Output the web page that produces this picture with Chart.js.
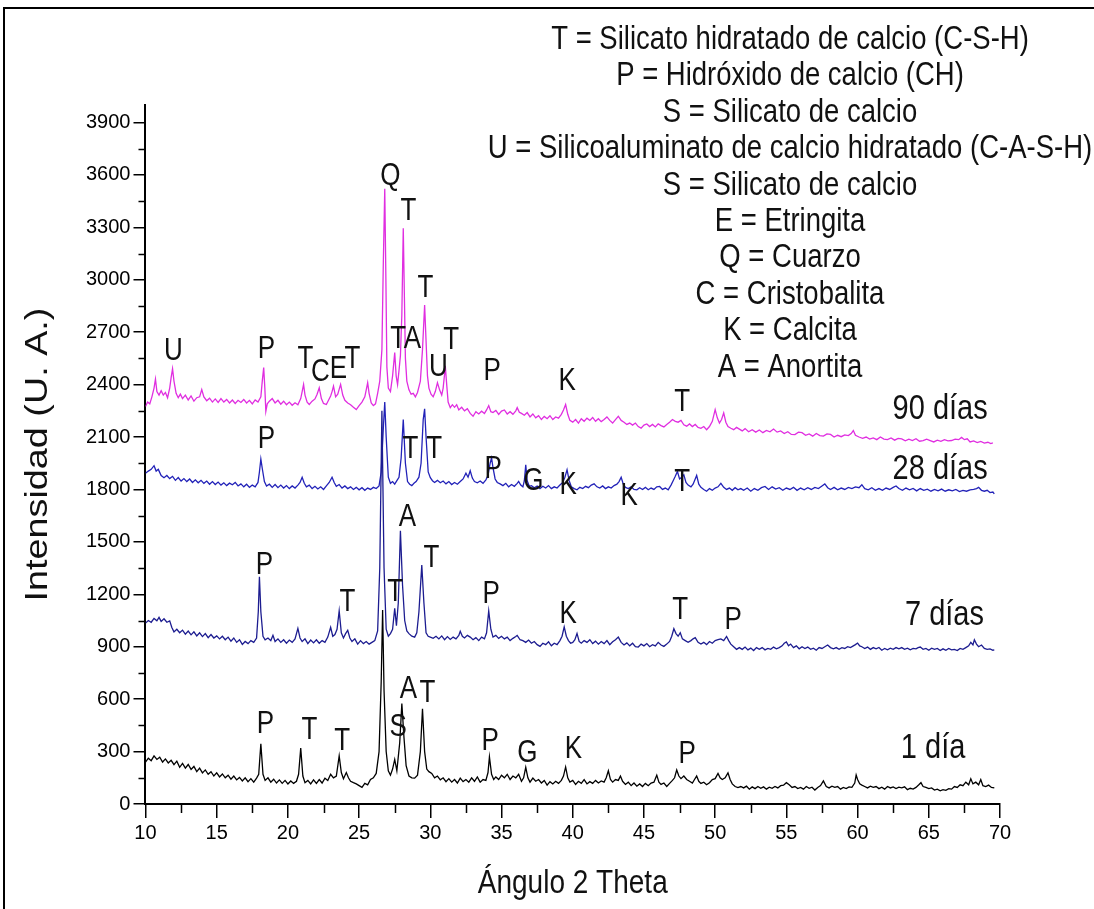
<!DOCTYPE html>
<html>
<head>
<meta charset="utf-8">
<script src="https://cdn.jsdelivr.net/npm/chart.js@4"></script>
<style>
  html, body { margin: 0; padding: 0; background: #fff; }
  #wrap { width: 1094px; height: 909px; }
</style>
</head>
<body>
<div id="wrap"><canvas id="xrd" width="1094" height="909"></canvas></div>
<script>
// ---- difractogramas [2θ, intensidad] ----
const dia1 = [
  [10.0,240],[10.2,262],[10.4,248],[10.6,275],[10.8,255],[11.0,268],[11.2,240],[11.4,258],[11.6,235],[11.8,250],
  [12.0,225],[12.2,245],[12.4,210],[12.6,232],[12.8,205],[13.0,226],[13.2,198],[13.4,215],[13.6,185],[13.8,205],
  [14.0,178],[14.2,195],[14.4,170],[14.6,185],[14.8,160],[15.0,178],[15.2,155],[15.4,172],[15.6,150],[15.8,165],
  [16.0,142],[16.2,160],[16.4,138],[16.6,152],[16.8,132],[17.0,150],[17.2,128],[17.4,145],[17.6,125],[17.8,148],
  [17.95,170],[18.1,345],[18.25,170],[18.4,135],[18.6,150],[18.8,125],[19.0,142],[19.2,120],[19.4,138],[19.6,118],
  [19.8,135],[20.0,115],[20.2,132],[20.4,118],[20.6,130],[20.75,170],[20.9,320],[21.05,160],[21.2,122],[21.4,135],
  [21.6,115],[21.8,138],[22.0,118],[22.2,140],[22.4,120],[22.6,148],[22.8,135],[23.0,170],[23.2,150],[23.4,160],
  [23.6,275],[23.75,180],[23.9,145],[24.1,180],[24.25,150],[24.4,130],[24.6,122],[24.8,115],[25.0,105],[25.2,95],
  [25.4,118],[25.6,110],[25.8,140],[26.0,150],[26.2,175],[26.4,300],[26.55,700],[26.65,1110],[26.75,650],[26.9,300],
  [27.05,190],[27.2,165],[27.35,200],[27.5,255],[27.65,190],[27.85,350],[28.0,575],[28.15,380],[28.3,220],[28.5,160],
  [28.7,150],[28.9,148],[29.1,165],[29.3,300],[29.45,545],[29.6,300],[29.75,200],[29.9,185],[30.1,175],[30.3,150],
  [30.5,160],[30.7,138],[30.9,150],[31.1,128],[31.3,145],[31.5,125],[31.7,140],[31.9,120],[32.1,148],[32.3,128],
  [32.5,140],[32.7,125],[32.9,150],[33.1,130],[33.3,155],[33.5,125],[33.7,140],[33.9,135],[34.05,180],[34.15,270],
  [34.3,170],[34.45,140],[34.6,155],[34.8,140],[35.0,165],[35.2,150],[35.4,170],[35.6,140],[35.8,160],[36.0,150],
  [36.2,170],[36.4,130],[36.55,150],[36.7,210],[36.85,150],[37.0,125],[37.2,148],[37.4,130],[37.6,140],[37.8,120],
  [38.0,135],[38.2,108],[38.4,128],[38.6,115],[38.8,130],[39.0,118],[39.2,135],[39.35,160],[39.5,212],[39.65,150],
  [39.8,125],[40.0,135],[40.2,112],[40.4,130],[40.6,118],[40.8,140],[41.0,115],[41.2,128],[41.4,118],[41.6,135],
  [41.8,120],[42.0,132],[42.2,125],[42.35,150],[42.5,190],[42.65,140],[42.8,125],[43.0,140],[43.2,135],[43.35,160],
  [43.5,130],[43.7,112],[43.9,125],[44.1,105],[44.3,120],[44.5,102],[44.7,115],[44.9,100],[45.1,118],[45.3,105],
  [45.5,120],[45.7,125],[45.9,165],[46.05,125],[46.2,112],[46.4,120],[46.6,100],[46.8,118],[47.0,135],[47.15,150],
  [47.3,195],[47.45,160],[47.6,145],[47.8,160],[48.0,140],[48.2,130],[48.4,120],[48.55,140],[48.7,160],[48.85,130],
  [49.0,118],[49.2,125],[49.4,110],[49.6,122],[49.8,140],[50.0,145],[50.2,175],[50.35,150],[50.5,140],[50.7,150],
  [50.9,178],[51.05,140],[51.2,115],[51.4,100],[51.6,94],[51.8,100],[52.0,92],[52.2,102],[52.4,85],[52.6,98],
  [52.8,88],[53.0,100],[53.2,90],[53.4,98],[53.6,85],[53.8,96],[54.0,90],[54.2,100],[54.4,92],[54.6,105],
  [54.8,108],[55.0,122],[55.2,110],[55.4,95],[55.6,100],[55.8,88],[56.0,95],[56.2,85],[56.4,100],[56.6,90],
  [56.8,96],[57.0,80],[57.2,95],[57.4,105],[57.6,132],[57.8,100],[58.0,92],[58.2,102],[58.4,95],[58.6,100],
  [58.8,85],[59.0,95],[59.2,88],[59.4,98],[59.6,95],[59.8,120],[59.9,166],[60.0,140],[60.15,115],[60.3,108],
  [60.5,100],[60.7,92],[60.9,102],[61.1,95],[61.3,100],[61.5,88],[61.7,96],[61.9,85],[62.1,100],[62.3,92],
  [62.5,98],[62.7,88],[62.9,96],[63.1,92],[63.3,98],[63.5,82],[63.7,90],[63.9,85],[64.1,95],[64.3,110],
  [64.45,122],[64.6,100],[64.8,95],[65.0,88],[65.2,92],[65.4,80],[65.6,85],[65.8,75],[66.0,82],[66.2,78],
  [66.4,88],[66.6,85],[66.8,100],[67.0,95],[67.2,110],[67.4,105],[67.6,125],[67.8,110],[67.95,144],[68.1,115],
  [68.3,125],[68.5,110],[68.65,140],[68.8,105],[69.0,100],[69.2,108],[69.4,95],[69.6,92]
];
const dia7 = [
  [10.0,1035],[10.2,1050],[10.4,1040],[10.6,1062],[10.8,1048],[10.95,1068],[11.1,1045],[11.3,1060],[11.5,1040],[11.7,1048],
  [11.85,1010],[12.0,985],[12.2,1000],[12.4,980],[12.6,995],[12.8,972],[13.0,990],[13.2,968],[13.4,985],[13.6,962],
  [13.8,980],[14.0,958],[14.2,975],[14.4,952],[14.6,970],[14.8,950],[15.0,962],[15.2,945],[15.4,960],[15.6,940],
  [15.8,955],[16.0,932],[16.2,950],[16.4,925],[16.6,940],[16.8,913],[17.0,930],[17.2,918],[17.4,935],[17.6,925],
  [17.8,950],[17.92,1100],[18.0,1300],[18.1,1100],[18.25,960],[18.4,940],[18.6,950],[18.8,935],[18.95,965],[19.1,930],
  [19.3,945],[19.5,925],[19.7,940],[19.9,920],[20.1,938],[20.3,925],[20.5,945],[20.7,1005],[20.85,950],[21.0,930],
  [21.2,945],[21.4,918],[21.6,938],[21.8,922],[22.0,940],[22.2,920],[22.4,935],[22.6,925],[22.8,955],[23.0,1011],
  [23.15,960],[23.3,970],[23.45,1000],[23.6,1105],[23.75,980],[23.9,950],[24.05,975],[24.2,994],[24.35,950],[24.5,930],
  [24.7,945],[24.9,915],[25.1,935],[25.3,918],[25.5,930],[25.7,915],[25.9,925],[26.1,935],[26.3,990],[26.45,1350],
  [26.6,2250],[26.75,1350],[26.9,1000],[27.05,960],[27.2,975],[27.35,1000],[27.5,1120],[27.62,1020],[27.75,1150],[27.9,1564],
  [28.05,1250],[28.2,1050],[28.35,990],[28.5,975],[28.7,960],[28.9,955],[29.05,980],[29.2,1100],[29.4,1367],[29.55,1150],
  [29.7,980],[29.85,960],[30.0,955],[30.2,948],[30.4,960],[30.6,945],[30.8,962],[31.0,940],[31.2,958],[31.4,942],
  [31.6,955],[31.8,945],[32.0,965],[32.1,988],[32.25,960],[32.4,950],[32.6,965],[32.8,955],[33.0,940],[33.2,952],
  [33.4,935],[33.6,955],[33.8,945],[33.95,980],[34.1,1105],[34.25,1000],[34.4,955],[34.6,965],[34.8,948],[35.0,960],
  [35.2,945],[35.4,955],[35.6,935],[35.8,948],[36.0,958],[36.1,965],[36.3,940],[36.5,935],[36.7,925],[36.9,938],
  [37.1,920],[37.3,930],[37.5,912],[37.7,902],[37.9,920],[38.1,912],[38.3,928],[38.5,905],[38.7,920],[38.9,912],
  [39.1,935],[39.25,960],[39.4,1013],[39.55,960],[39.7,935],[39.85,920],[40.0,925],[40.15,940],[40.3,976],[40.45,930],
  [40.6,920],[40.8,935],[41.0,925],[41.2,940],[41.4,918],[41.6,932],[41.8,915],[42.0,930],[42.2,918],[42.4,935],
  [42.6,912],[42.8,928],[43.0,940],[43.2,955],[43.4,925],[43.6,910],[43.8,922],[44.0,905],[44.2,920],[44.4,900],
  [44.6,898],[44.8,915],[45.0,905],[45.2,918],[45.4,900],[45.6,912],[45.8,905],[46.0,925],[46.2,910],[46.4,902],
  [46.6,915],[46.8,930],[46.95,960],[47.1,1003],[47.25,975],[47.4,960],[47.55,980],[47.7,945],[47.9,935],[48.1,925],
  [48.3,935],[48.45,945],[48.6,952],[48.8,925],[49.0,915],[49.2,925],[49.4,912],[49.6,930],[49.8,920],[50.0,935],
  [50.2,940],[50.4,945],[50.6,935],[50.8,959],[50.95,935],[51.1,915],[51.3,900],[51.5,885],[51.7,895],[51.9,885],
  [52.1,898],[52.3,882],[52.5,892],[52.7,878],[52.9,895],[53.1,885],[53.3,895],[53.5,882],[53.7,890],[53.9,885],
  [54.1,898],[54.3,888],[54.5,895],[54.7,905],[54.85,920],[55.0,927],[55.15,905],[55.3,915],[55.5,895],[55.7,905],
  [55.9,888],[56.1,900],[56.3,890],[56.5,898],[56.7,885],[56.9,892],[57.1,880],[57.3,895],[57.5,890],[57.7,900],
  [57.9,910],[58.1,895],[58.3,888],[58.5,895],[58.7,885],[58.9,895],[59.1,890],[59.3,900],[59.5,895],[59.7,905],
  [59.85,912],[60.0,921],[60.15,905],[60.3,900],[60.5,890],[60.7,898],[60.9,885],[61.1,895],[61.3,888],[61.5,896],
  [61.7,880],[61.9,890],[62.1,882],[62.3,892],[62.5,885],[62.7,895],[62.9,888],[63.1,895],[63.3,885],[63.5,892],
  [63.7,882],[63.9,890],[64.1,888],[64.25,895],[64.4,898],[64.6,885],[64.8,890],[65.0,880],[65.2,892],[65.4,885],
  [65.6,890],[65.8,878],[66.0,888],[66.2,880],[66.4,890],[66.6,882],[66.8,885],[67.0,878],[67.2,890],[67.4,885],
  [67.6,895],[67.8,905],[67.95,925],[68.1,910],[68.2,940],[68.35,915],[68.5,900],[68.7,910],[68.9,890],[69.1,885],
  [69.3,888],[69.5,880],[69.6,882]
];
const dia28 = [
  [10.0,1893],[10.2,1905],[10.4,1915],[10.6,1936],[10.75,1905],[10.9,1915],[11.1,1880],[11.3,1867],[11.5,1880],[11.7,1862],
  [11.9,1875],[12.1,1852],[12.3,1868],[12.5,1848],[12.7,1862],[12.9,1845],[13.1,1860],[13.3,1840],[13.5,1855],[13.7,1838],
  [13.9,1852],[14.1,1835],[14.3,1848],[14.5,1830],[14.7,1845],[14.9,1828],[15.1,1842],[15.3,1825],[15.5,1838],[15.7,1822],
  [15.9,1836],[16.1,1827],[16.3,1840],[16.5,1820],[16.7,1832],[16.9,1815],[17.1,1830],[17.3,1812],[17.5,1825],[17.7,1815],
  [17.9,1840],[18.0,1900],[18.1,1974],[18.2,1920],[18.35,1845],[18.5,1820],[18.7,1830],[18.9,1812],[19.1,1828],[19.3,1810],
  [19.5,1825],[19.7,1808],[19.9,1822],[20.1,1805],[20.3,1820],[20.5,1808],[20.7,1825],[20.85,1840],[21.0,1870],[21.15,1835],
  [21.3,1815],[21.5,1825],[21.7,1805],[21.9,1818],[22.1,1803],[22.3,1815],[22.5,1800],[22.7,1820],[22.9,1840],[23.1,1870],
  [23.25,1840],[23.4,1818],[23.6,1828],[23.8,1808],[24.0,1820],[24.2,1805],[24.4,1815],[24.6,1800],[24.8,1812],[25.0,1798],
  [25.2,1810],[25.4,1795],[25.6,1808],[25.8,1800],[26.0,1812],[26.2,1805],[26.4,1820],[26.55,1900],[26.7,2150],[26.8,2300],
  [26.9,2100],[27.05,1870],[27.2,1835],[27.35,1845],[27.5,1830],[27.65,1850],[27.8,1870],[27.95,1980],[28.1,2200],[28.25,1950],
  [28.4,1845],[28.55,1830],[28.7,1822],[28.85,1835],[29.0,1845],[29.2,1870],[29.35,1950],[29.5,2200],[29.6,2261],[29.7,2100],
  [29.85,1900],[30.0,1867],[30.15,1850],[30.3,1840],[30.5,1852],[30.7,1838],[30.9,1848],[31.1,1832],[31.3,1845],[31.5,1828],
  [31.7,1840],[31.9,1830],[32.1,1845],[32.3,1860],[32.5,1893],[32.65,1870],[32.8,1907],[32.95,1865],[33.1,1845],[33.3,1838],
  [33.5,1848],[33.7,1835],[33.9,1855],[34.05,1880],[34.2,1950],[34.3,1980],[34.4,1925],[34.55,1860],[34.7,1840],[34.9,1832],
  [35.1,1822],[35.3,1835],[35.5,1815],[35.7,1828],[35.9,1818],[36.1,1835],[36.2,1846],[36.35,1825],[36.5,1815],[36.6,1850],
  [36.7,1941],[36.8,1850],[36.95,1818],[37.1,1822],[37.3,1810],[37.5,1820],[37.7,1805],[37.9,1818],[38.1,1808],[38.3,1822],
  [38.5,1805],[38.7,1815],[38.9,1808],[39.1,1825],[39.3,1840],[39.45,1870],[39.6,1913],[39.75,1850],[39.9,1815],[40.1,1805],
  [40.3,1798],[40.5,1812],[40.7,1805],[40.9,1818],[41.1,1810],[41.3,1825],[41.5,1832],[41.7,1815],[41.9,1808],[42.1,1820],
  [42.3,1805],[42.5,1815],[42.7,1808],[42.9,1822],[43.1,1830],[43.25,1845],[43.4,1870],[43.55,1830],[43.7,1812],[43.9,1805],
  [44.1,1815],[44.3,1800],[44.5,1798],[44.7,1810],[44.9,1800],[45.1,1812],[45.3,1798],[45.5,1808],[45.7,1800],[45.9,1815],
  [46.1,1817],[46.3,1800],[46.5,1808],[46.7,1798],[46.9,1825],[47.05,1850],[47.2,1875],[47.35,1903],[47.5,1860],[47.65,1870],
  [47.8,1884],[47.95,1840],[48.1,1825],[48.3,1815],[48.45,1830],[48.6,1860],[48.7,1880],[48.85,1830],[49.0,1812],[49.2,1800],
  [49.4,1790],[49.6,1805],[49.8,1795],[50.0,1808],[50.2,1815],[50.4,1835],[50.6,1812],[50.8,1800],[51.0,1808],[51.2,1795],
  [51.4,1810],[51.6,1798],[51.8,1805],[52.0,1795],[52.25,1808],[52.5,1790],[52.75,1805],[53.0,1795],[53.25,1810],[53.5,1817],
  [53.75,1800],[54.0,1815],[54.25,1802],[54.5,1810],[54.75,1795],[55.0,1808],[55.25,1800],[55.5,1812],[55.75,1795],[56.0,1808],
  [56.25,1798],[56.5,1810],[56.75,1800],[57.0,1812],[57.25,1805],[57.5,1820],[57.7,1832],[57.9,1810],[58.1,1800],[58.35,1812],
  [58.6,1798],[58.85,1808],[59.1,1800],[59.35,1812],[59.6,1805],[59.85,1815],[60.1,1810],[60.3,1827],[60.5,1805],[60.75,1798],
  [61.0,1810],[61.25,1795],[61.5,1805],[61.75,1795],[62.0,1808],[62.25,1800],[62.5,1812],[62.7,1820],[62.9,1805],[63.15,1795],
  [63.4,1808],[63.65,1798],[63.9,1806],[64.15,1792],[64.4,1805],[64.65,1795],[64.9,1802],[65.15,1790],[65.4,1800],[65.65,1792],
  [65.9,1802],[66.15,1790],[66.4,1798],[66.65,1792],[66.9,1800],[67.15,1788],[67.4,1795],[67.65,1790],[67.9,1798],[68.15,1800],
  [68.35,1805],[68.5,1812],[68.7,1795],[68.9,1790],[69.1,1795],[69.3,1782],[69.5,1785],[69.6,1775]
];
const dia90 = [
  [10.0,2275],[10.15,2300],[10.3,2290],[10.45,2330],[10.6,2380],[10.7,2432],[10.8,2360],[10.95,2340],[11.1,2365],[11.25,2340],
  [11.4,2355],[11.55,2325],[11.7,2380],[11.8,2440],[11.9,2491],[12.0,2420],[12.15,2350],[12.3,2325],[12.45,2345],[12.6,2320],
  [12.8,2340],[13.0,2312],[13.2,2335],[13.4,2305],[13.6,2325],[13.8,2330],[13.95,2372],[14.1,2330],[14.3,2308],[14.5,2322],
  [14.7,2300],[14.9,2318],[15.1,2298],[15.3,2320],[15.5,2300],[15.7,2315],[15.9,2295],[16.1,2312],[16.3,2292],[16.5,2310],
  [16.7,2298],[16.9,2315],[17.1,2295],[17.3,2310],[17.5,2290],[17.7,2312],[17.9,2300],[18.1,2330],[18.2,2420],[18.3,2497],
  [18.38,2380],[18.45,2247],[18.55,2290],[18.7,2305],[18.9,2320],[19.1,2295],[19.3,2310],[19.5,2288],[19.7,2305],[19.9,2285],
  [20.1,2300],[20.3,2282],[20.5,2296],[20.7,2285],[20.9,2320],[21.0,2360],[21.1,2401],[21.2,2340],[21.35,2300],[21.5,2286],
  [21.7,2305],[21.9,2318],[22.05,2345],[22.2,2382],[22.35,2320],[22.5,2292],[22.7,2286],[22.85,2310],[23.0,2335],[23.1,2360],
  [23.2,2391],[23.35,2330],[23.5,2345],[23.7,2401],[23.85,2340],[24.0,2310],[24.2,2295],[24.4,2285],[24.6,2270],[24.8,2257],
  [25.0,2280],[25.2,2300],[25.4,2330],[25.5,2370],[25.6,2411],[25.7,2350],[25.85,2295],[26.0,2280],[26.15,2290],[26.3,2350],
  [26.45,2420],[26.6,2600],[26.7,3100],[26.8,3521],[26.88,3000],[26.95,2500],[27.05,2380],[27.2,2360],[27.35,2450],[27.5,2583],
  [27.6,2450],[27.7,2400],[27.8,2480],[27.9,2566],[28.0,2800],[28.1,3295],[28.18,2900],[28.25,2550],[28.35,2420],[28.5,2370],
  [28.65,2345],[28.8,2350],[28.95,2330],[29.1,2355],[29.3,2420],[29.45,2600],[29.6,2855],[29.7,2650],[29.8,2450],[29.9,2380],
  [30.05,2345],[30.2,2330],[30.35,2360],[30.5,2411],[30.65,2370],[30.8,2340],[30.9,2380],[31.0,2460],[31.05,2507],[31.15,2400],
  [31.25,2300],[31.4,2268],[31.55,2285],[31.7,2270],[31.85,2285],[32.0,2255],[32.2,2270],[32.4,2250],[32.6,2262],[32.8,2235],
  [33.0,2219],[33.2,2245],[33.4,2232],[33.6,2248],[33.8,2235],[33.95,2255],[34.1,2280],[34.25,2245],[34.4,2240],[34.6,2252],
  [34.8,2229],[35.0,2248],[35.2,2255],[35.4,2232],[35.6,2245],[35.8,2230],[36.0,2250],[36.1,2268],[36.25,2242],[36.4,2235],
  [36.6,2225],[36.8,2240],[37.0,2215],[37.2,2232],[37.4,2210],[37.6,2222],[37.8,2200],[38.0,2218],[38.2,2205],[38.4,2222],
  [38.6,2200],[38.8,2215],[39.0,2208],[39.2,2230],[39.35,2255],[39.5,2286],[39.65,2230],[39.8,2195],[40.0,2185],[40.2,2200],
  [40.4,2180],[40.6,2205],[40.8,2190],[41.0,2208],[41.2,2195],[41.4,2212],[41.6,2190],[41.8,2205],[42.0,2188],[42.2,2200],
  [42.4,2215],[42.6,2195],[42.8,2180],[43.0,2200],[43.2,2219],[43.4,2195],[43.6,2185],[43.8,2172],[44.0,2180],[44.2,2168],
  [44.4,2180],[44.6,2160],[44.8,2151],[45.0,2168],[45.2,2175],[45.4,2160],[45.6,2172],[45.8,2158],[46.0,2175],[46.2,2165],
  [46.4,2158],[46.6,2172],[46.8,2185],[47.0,2200],[47.2,2190],[47.4,2185],[47.6,2195],[47.8,2170],[48.0,2162],[48.2,2175],
  [48.4,2160],[48.6,2172],[48.8,2155],[49.0,2150],[49.2,2160],[49.4,2142],[49.6,2160],[49.8,2190],[50.0,2257],[50.15,2210],
  [50.3,2180],[50.45,2200],[50.6,2238],[50.75,2185],[50.9,2160],[51.1,2150],[51.3,2142],[51.5,2155],[51.7,2145],[51.9,2135],
  [52.1,2148],[52.35,2130],[52.6,2142],[52.85,2128],[53.1,2140],[53.35,2125],[53.6,2138],[53.85,2130],[54.1,2146],[54.35,2128],
  [54.6,2135],[54.85,2120],[55.1,2130],[55.35,2115],[55.6,2114],[55.85,2128],[56.1,2125],[56.35,2110],[56.6,2118],[56.85,2105],
  [57.1,2120],[57.35,2108],[57.6,2105],[57.85,2118],[58.1,2115],[58.35,2100],[58.6,2110],[58.85,2102],[59.1,2112],[59.35,2108],
  [59.55,2120],[59.7,2137],[59.85,2110],[60.1,2100],[60.35,2092],[60.6,2100],[60.85,2088],[61.1,2095],[61.35,2085],[61.6,2100],
  [61.85,2088],[62.1,2085],[62.35,2095],[62.6,2082],[62.85,2092],[63.1,2089],[63.35,2078],[63.6,2088],[63.85,2080],[64.1,2090],
  [64.35,2076],[64.6,2079],[64.85,2088],[65.1,2080],[65.35,2072],[65.6,2082],[65.85,2075],[66.1,2085],[66.35,2078],[66.6,2080],
  [66.85,2088],[67.1,2085],[67.3,2098],[67.5,2085],[67.7,2090],[67.9,2072],[68.15,2078],[68.4,2068],[68.65,2075],[68.9,2065],
  [69.15,2070],[69.35,2062],[69.5,2066]
];

// letras de fases sobre los picos
const tagLetters = ['U','P','T','C','E','T','Q','T','T','A','T','T','U','P','K','T',
  'P','T','T','P','G','K','K','T',
  'P','T','T','A','T','P','K','T','P',
  'P','T','T','S','A','T','P','G','K','P'];
const tagAngles = [11.96,18.49,21.23,22.28,23.54,24.53,27.19,28.46,27.75,28.74,29.65,31.47,30.56,34.35,39.61,47.68,
  18.49,28.6,30.28,34.42,37.23,39.68,43.96,47.68,
  18.35,24.18,27.54,28.39,30.07,34.28,39.68,47.54,51.26,
  18.42,21.51,23.82,27.75,28.46,29.79,34.21,36.81,40.04,48.04];
const tagHeights = [2590,2602,2545,2470,2487,2545,3590,3389,2659,2659,2952,2654,2499,2476,2418,2298,
  2085,2028,2028,1913,1844,1821,1758,1838,
  1367,1155,1212,1637,1407,1200,1086,1109,1051,
  454,419,356,437,655,632,356,287,310,281];

// nombre de cada curva
const curveNames = ['90 días','28 días','7 días','1 día'];
const curveNameAngles = [65.8,65.8,66.1,65.3];
const curveNameHeights = [2257,1913,1080,316];

// leyenda de fases
const phaseLines = [
  'T = Silicato hidratado de calcio (C-S-H)',
  'P = Hidróxido de calcio (CH)',
  'S = Silicato de calcio',
  'U = Silicoaluminato de calcio hidratado (C-A-S-H)',
  'S = Silicato de calcio',
  'E = Etringita',
  'Q = Cuarzo',
  'C = Cristobalita',
  'K = Calcita',
  'A = Anortita'
];

const FONT = '"Liberation Sans", Arial, Helvetica, sans-serif';
const TALL = 1.18;   // el texto de la figura es algo más alto que ancho
Chart.defaults.font.family = FONT;
Chart.defaults.color = '#000';

function tallText(ctx, text, px, py, size, rotate) {
  ctx.save();
  ctx.translate(px, py);
  ctx.font = size + 'px ' + FONT;
  if (rotate) {
    ctx.rotate(-Math.PI / 2);
    ctx.scale(TALL, 1);
  } else {
    ctx.scale(1, TALL);
  }
  ctx.fillText(text, 0, 0);
  ctx.restore();
}

const decorations = {
  id: 'decorations',
  beforeDraw(chart) {
    const ctx = chart.ctx;
    ctx.save();
    ctx.fillStyle = '#fff';
    ctx.fillRect(0, 0, chart.width, chart.height);
    ctx.restore();
  },
  afterDraw(chart) {
    const { ctx, scales: { x, y }, chartArea } = chart;
    ctx.save();

    // ticks menores
    ctx.strokeStyle = '#000';
    ctx.lineWidth = 1.5;
    ctx.beginPath();
    for (let v = 12.5; v < 70; v += 5) {
      const px = Math.round(x.getPixelForValue(v)) + 0.5;
      ctx.moveTo(px, chartArea.bottom);
      ctx.lineTo(px, chartArea.bottom + 9);
    }
    for (let v = 150; v < 4000; v += 300) {
      const py = Math.round(y.getPixelForValue(v)) + 0.5;
      ctx.moveTo(chartArea.left, py);
      ctx.lineTo(chartArea.left - 7, py);
    }
    ctx.stroke();

    ctx.fillStyle = '#111';
    ctx.textAlign = 'center';
    ctx.textBaseline = 'middle';

    tagLetters.forEach((t, i) => {
      tallText(ctx, t, x.getPixelForValue(tagAngles[i]), y.getPixelForValue(tagHeights[i]), 26);
    });

    curveNames.forEach((t, i) => {
      tallText(ctx, t, x.getPixelForValue(curveNameAngles[i]), y.getPixelForValue(curveNameHeights[i]), 29);
    });

    phaseLines.forEach((t, i) => {
      tallText(ctx, t, 790, 40 + i * 36.4, 27.5);
    });

    // títulos de los ejes
    tallText(ctx, 'Ángulo 2 Theta', (chartArea.left + chartArea.right) / 2, 884, 28);
    tallText(ctx, 'Intensidad (U. A.)', 38, (chartArea.top + chartArea.bottom) / 2, 32, true);

    // marco
    ctx.strokeStyle = '#000';
    ctx.lineWidth = 2;
    ctx.strokeRect(4, 8, 1300, 1300);
    ctx.restore();
  }
};

const ds = (label, data, color) => ({
  label, data,
  borderColor: color,
  borderWidth: 1.3,
  pointRadius: 0,
  showLine: true,
  tension: 0,
  fill: false
});

new Chart(document.getElementById('xrd'), {
  type: 'scatter',
  data: {
    datasets: [
      ds('1 día', dia1, '#000000'),
      ds('7 días', dia7, '#1c1c90'),
      ds('28 días', dia28, '#2222b8'),
      ds('90 días', dia90, '#e02ee0')
    ]
  },
  options: {
    responsive: false,
    animation: false,
    layout: { padding: { left: 83, top: 105, right: 94, bottom: 61 } },
    plugins: { legend: { display: false }, tooltip: { enabled: false } },
    scales: {
      x: {
        type: 'linear', min: 10, max: 70,
        ticks: { stepSize: 5, font: { size: 20 }, padding: 3, color: '#000' },
        grid: { display: true, drawOnChartArea: false, drawTicks: true, tickLength: 14, color: '#000', lineWidth: 1.5 },
        border: { display: true, color: '#000', width: 2 }
      },
      y: {
        type: 'linear', min: 0, max: 4000,
        ticks: { stepSize: 300, includeBounds: false, font: { size: 20 }, padding: 3, color: '#000',
                 callback: v => String(v) },
        grid: { display: true, drawOnChartArea: false, drawTicks: true, tickLength: 12, color: '#000', lineWidth: 1.5 },
        border: { display: true, color: '#000', width: 2 }
      }
    }
  },
  plugins: [decorations]
});
</script>
</body>
</html>
